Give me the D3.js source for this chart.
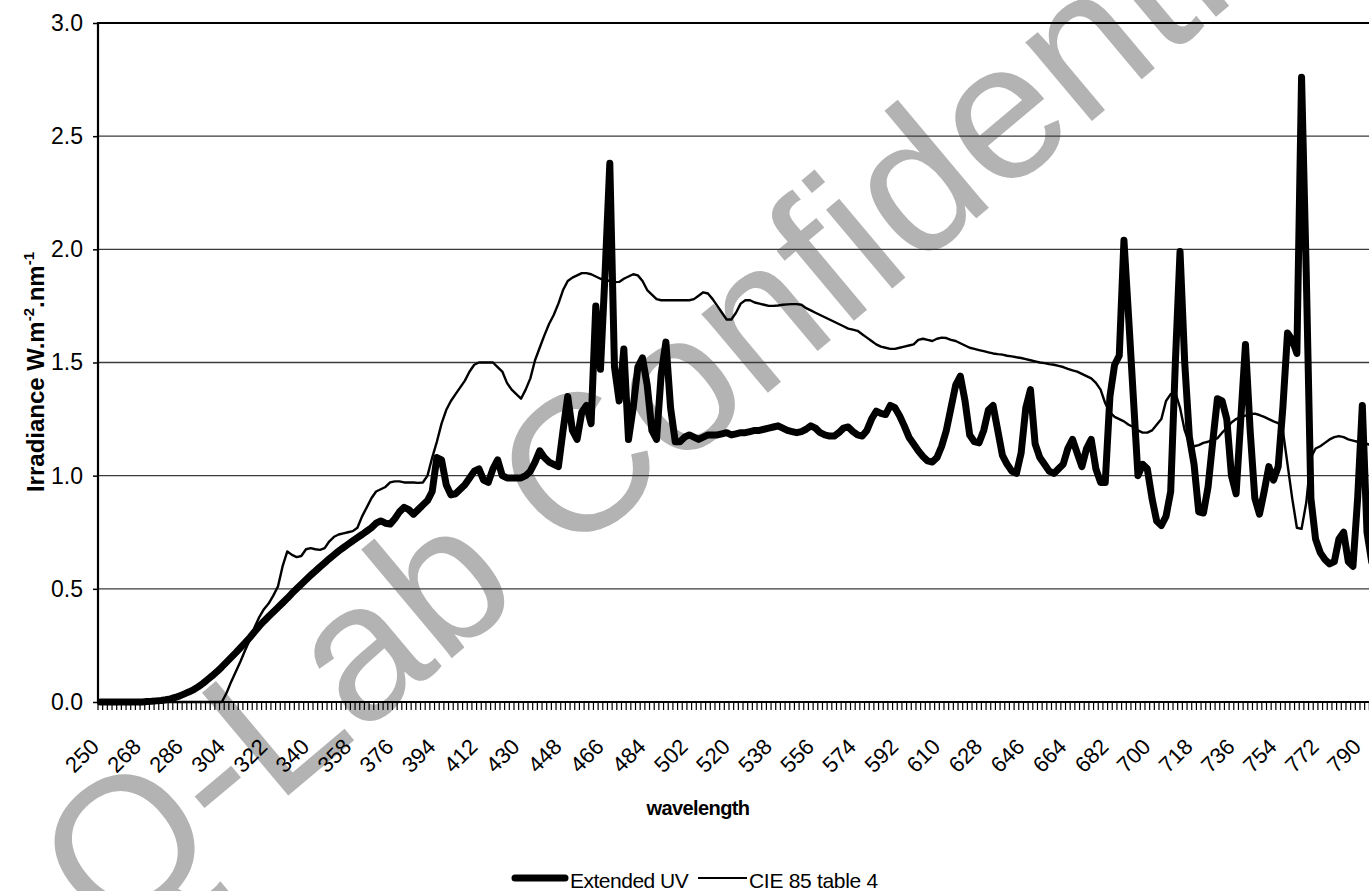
<!DOCTYPE html>
<html>
<head>
<meta charset="utf-8">
<script src="https://cdn.jsdelivr.net/npm/d3@7"></script>
<style>
  body { margin: 0; background: #fff; }
  svg { display: block; font-family: Arial, "Liberation Sans", sans-serif; }
</style>
</head>
<body>
<svg id="chart" width="1369" height="891"></svg>
<script>
// categories: 250..800 nm, every 2 nm
const wavelengths = d3.range(250, 801, 2);
const tickLabels = [250, 268, 286, 304, 322, 340, 358, 376, 394, 412, 430, 448, 466, 484, 502,
  520, 538, 556, 574, 592, 610, 628, 646, 664, 682, 700, 718, 736, 754, 772, 790];
const yTicks = [0, 0.5, 1, 1.5, 2, 2.5, 3];

const extendedUV = [
  0, 0, 0, 0, 0, 0, 0, 0, 0, 0,
  0.002, 0.003, 0.005, 0.007, 0.01,
  0.014, 0.02, 0.027, 0.036, 0.045, 0.055, 0.068, 0.083, 0.1, 0.117,
  0.135, 0.155, 0.176, 0.197, 0.218, 0.24, 0.262, 0.285, 0.31, 0.335,
  0.357, 0.378, 0.398, 0.418, 0.438, 0.458, 0.48, 0.5, 0.52, 0.54,
  0.56, 0.578, 0.597, 0.615, 0.633, 0.65, 0.667, 0.682, 0.697, 0.712,
  0.726, 0.74, 0.755, 0.77, 0.79, 0.8, 0.79, 0.786, 0.81, 0.84,
  0.86, 0.85, 0.83, 0.85, 0.87, 0.89, 0.93, 1.08, 1.07, 0.96,
  0.915, 0.92, 0.94, 0.96, 0.99, 1.02, 1.03, 0.98, 0.97, 1.03,
  1.07, 1.0, 0.99, 0.99, 0.99, 0.99, 1.0, 1.02, 1.06, 1.11,
  1.08, 1.06, 1.05, 1.04, 1.2, 1.35, 1.2, 1.16, 1.28, 1.31,
  1.23, 1.75, 1.47, 1.9, 2.38, 1.48, 1.33, 1.56, 1.16, 1.3,
  1.48, 1.52, 1.4, 1.2, 1.16, 1.45, 1.59, 1.3, 1.15, 1.15,
  1.17, 1.18, 1.17, 1.16, 1.17, 1.18, 1.18, 1.18, 1.185, 1.19,
  1.18, 1.185, 1.19, 1.19, 1.195, 1.2, 1.2, 1.205, 1.21, 1.215,
  1.22, 1.21, 1.2, 1.195, 1.19, 1.195, 1.205, 1.22, 1.21, 1.19,
  1.18, 1.175, 1.175, 1.19, 1.21, 1.215, 1.195, 1.18, 1.175, 1.2,
  1.25, 1.285, 1.275, 1.27, 1.31, 1.3, 1.265, 1.22, 1.17, 1.14,
  1.11, 1.085, 1.065, 1.06, 1.08, 1.13, 1.2, 1.3, 1.4, 1.44,
  1.33, 1.18, 1.15, 1.145, 1.2, 1.29, 1.31, 1.2, 1.09, 1.05,
  1.02, 1.01, 1.1, 1.3, 1.38, 1.14, 1.08, 1.05, 1.02, 1.01,
  1.03, 1.05, 1.12, 1.16, 1.1, 1.04, 1.12, 1.16, 1.03, 0.97,
  0.97, 1.35, 1.49, 1.53, 2.04, 1.7, 1.35, 1.0, 1.05, 1.03,
  0.9, 0.8, 0.78, 0.82, 0.93, 1.5, 1.99, 1.5, 1.17, 1.05,
  0.84, 0.835, 0.95, 1.15, 1.34, 1.33, 1.25, 1.0, 0.92, 1.25,
  1.58, 1.2, 0.9, 0.83, 0.93, 1.04, 0.98, 1.04, 1.3, 1.63,
  1.6, 1.54, 2.76, 1.9, 0.9, 0.72, 0.66, 0.63, 0.61, 0.62,
  0.72, 0.75, 0.62, 0.6, 0.9, 1.31, 0.75, 0.62, 0.7, 0.8,
  0.85
];

const cie85 = [
  0, 0, 0, 0, 0, 0, 0, 0, 0, 0,
  0, 0, 0, 0, 0,
  0, 0, 0, 0, 0, 0, 0, 0, 0, 0,
  0, 0, 0.04, 0.09, 0.135, 0.18, 0.23, 0.275, 0.33, 0.375,
  0.41, 0.435, 0.47, 0.51, 0.6, 0.665, 0.65, 0.64, 0.645, 0.675,
  0.68, 0.675, 0.672, 0.68, 0.71, 0.73, 0.74, 0.745, 0.75, 0.755,
  0.77, 0.82, 0.86, 0.9, 0.93, 0.94, 0.95, 0.97, 0.975, 0.975,
  0.97, 0.97, 0.97, 0.968, 0.97, 1.0, 1.08, 1.15, 1.23, 1.29,
  1.33, 1.36, 1.39, 1.42, 1.46, 1.49, 1.5, 1.5, 1.5, 1.5,
  1.48, 1.46, 1.41, 1.38, 1.36, 1.34, 1.38, 1.43, 1.51, 1.565,
  1.62, 1.67, 1.71, 1.76, 1.82, 1.86, 1.875, 1.885, 1.895, 1.895,
  1.89, 1.88, 1.87, 1.865, 1.86, 1.855, 1.856, 1.87, 1.88, 1.89,
  1.885, 1.86, 1.82, 1.8, 1.78, 1.775, 1.775, 1.775, 1.775, 1.775,
  1.775, 1.775, 1.78, 1.795, 1.81, 1.805, 1.78, 1.75, 1.72, 1.69,
  1.69, 1.72, 1.76, 1.775, 1.775, 1.765, 1.76, 1.755, 1.75, 1.75,
  1.752, 1.755, 1.757, 1.758, 1.758, 1.755, 1.74, 1.73, 1.72, 1.71,
  1.7, 1.69, 1.68, 1.67, 1.66, 1.65, 1.645, 1.64, 1.625, 1.61,
  1.595, 1.58, 1.57, 1.565, 1.56, 1.56, 1.565, 1.57, 1.575, 1.58,
  1.6, 1.605, 1.6, 1.595, 1.605, 1.61, 1.608, 1.6, 1.595, 1.585,
  1.575, 1.565, 1.56, 1.555, 1.55, 1.545, 1.54, 1.537, 1.535, 1.53,
  1.527, 1.523, 1.52, 1.515, 1.51, 1.505, 1.5, 1.497, 1.493, 1.49,
  1.485, 1.48, 1.472, 1.465, 1.46, 1.45, 1.44, 1.43, 1.41, 1.38,
  1.32, 1.28, 1.26, 1.25, 1.24, 1.225, 1.215, 1.2, 1.19, 1.19,
  1.2, 1.225, 1.25, 1.33, 1.36, 1.367, 1.3, 1.2, 1.14, 1.13,
  1.135, 1.145, 1.15, 1.16, 1.165, 1.19, 1.21, 1.235, 1.25, 1.26,
  1.265, 1.272, 1.274, 1.268, 1.26, 1.25, 1.24, 1.232, 1.2, 1.05,
  0.9, 0.77, 0.765, 0.88, 1.08, 1.12, 1.13, 1.145, 1.16, 1.17,
  1.175, 1.17, 1.16, 1.155, 1.15, 1.145, 1.14, 1.135, 1.13, 1.125,
  1.12
];

const svg = d3.select("#chart");
const plotLeft = 98, plotTop = 23, plotBottom = 702;
const step = 4.674;
const plotRight = plotLeft + wavelengths.length * step;

const x = d3.scaleBand().domain(wavelengths).range([plotLeft, plotRight]);
const y = d3.scaleLinear().domain([0, 3]).range([plotBottom, plotTop]);
const cx = d => x(d) + x.bandwidth() / 2;

// watermark sits behind everything
svg.append("text")
  .attr("transform", "translate(110,945) rotate(-40)")
  .attr("font-size", 195)
  .attr("fill", "#b3b3b3")
  .text("Q-Lab Confidential");

// gridlines
svg.append("g")
  .selectAll("line")
  .data(yTicks.filter(d => d > 0))
  .join("line")
  .attr("x1", plotLeft).attr("x2", plotRight)
  .attr("y1", d => y(d)).attr("y2", d => y(d))
  .attr("stroke", d => d === 3 ? "#000" : "#3a3a3a")
  .attr("stroke-width", d => d === 3 ? 2.2 : 1.4);

// y axis
const yAxis = svg.append("g")
  .attr("transform", `translate(${plotLeft},0)`)
  .call(d3.axisLeft(y).tickValues(yTicks).tickFormat(d3.format(".1f")).tickSize(5).tickPadding(10));
yAxis.select(".domain").remove();
yAxis.selectAll(".tick line").attr("stroke", "#000").attr("stroke-width", 1.5);
yAxis.selectAll(".tick text").attr("font-size", 23).attr("fill", "#000")
  .attr("font-family", "Arial, 'Liberation Sans', sans-serif");
svg.append("line")
  .attr("x1", plotLeft).attr("x2", plotLeft).attr("y1", plotTop - 1).attr("y2", plotBottom)
  .attr("stroke", "#000").attr("stroke-width", 2.2);

// x axis: baseline, a tick at every category boundary, labels every 9 categories
svg.append("line")
  .attr("x1", plotLeft).attr("x2", plotRight).attr("y1", plotBottom).attr("y2", plotBottom)
  .attr("stroke", "#000").attr("stroke-width", 2.2);
svg.append("g")
  .selectAll("line")
  .data(wavelengths)
  .join("line")
  .attr("x1", d => x(d)).attr("x2", d => x(d))
  .attr("y1", plotBottom).attr("y2", plotBottom + 8)
  .attr("stroke", "#000").attr("stroke-width", 1.2);
svg.append("g")
  .selectAll("text")
  .data(tickLabels)
  .join("text")
  .attr("transform", d => `translate(${cx(d)},748) rotate(-45)`)
  .attr("text-anchor", "end")
  .attr("font-size", 22)
  .text(d => d);

// series
const line = d3.line().x(d => cx(d.w)).y(d => y(d.v));
const toPts = vals => wavelengths.map((w, i) => ({ w, v: vals[i] }));

svg.append("path")
  .datum(toPts(cie85))
  .attr("d", line)
  .attr("fill", "none").attr("stroke", "#000").attr("stroke-width", 2.4)
  .attr("stroke-linejoin", "round");

svg.append("path")
  .datum(toPts(extendedUV))
  .attr("d", line)
  .attr("fill", "none").attr("stroke", "#000").attr("stroke-width", 7)
  .attr("stroke-linejoin", "round").attr("stroke-linecap", "round");

// axis titles
svg.append("text")
  .attr("x", 698).attr("y", 815)
  .attr("text-anchor", "middle")
  .attr("font-size", 20).attr("font-weight", "bold")
  .attr("letter-spacing", -0.6)
  .text("wavelength");

const yTitle = svg.append("text")
  .attr("transform", "translate(44,372) rotate(-90)")
  .attr("text-anchor", "middle")
  .attr("font-size", 24).attr("font-weight", "bold");
yTitle.append("tspan").text("Irradiance W.m");
yTitle.append("tspan").attr("font-size", 15).attr("dy", -10).text("-2");
yTitle.append("tspan").attr("dy", 10).text(".nm");
yTitle.append("tspan").attr("font-size", 15).attr("dy", -10).text("-1");

// legend
svg.append("line")
  .attr("x1", 515).attr("x2", 565).attr("y1", 878).attr("y2", 878)
  .attr("stroke", "#000").attr("stroke-width", 7).attr("stroke-linecap", "round");
svg.append("text").attr("x", 570).attr("y", 888).attr("font-size", 21)
  .attr("letter-spacing", -0.5).text("Extended UV");
svg.append("line")
  .attr("x1", 698).attr("x2", 747).attr("y1", 878).attr("y2", 878)
  .attr("stroke", "#000").attr("stroke-width", 2);
svg.append("text").attr("x", 749).attr("y", 888).attr("font-size", 21)
  .attr("letter-spacing", -0.3).text("CIE 85 table 4");
</script>
</body>
</html>
